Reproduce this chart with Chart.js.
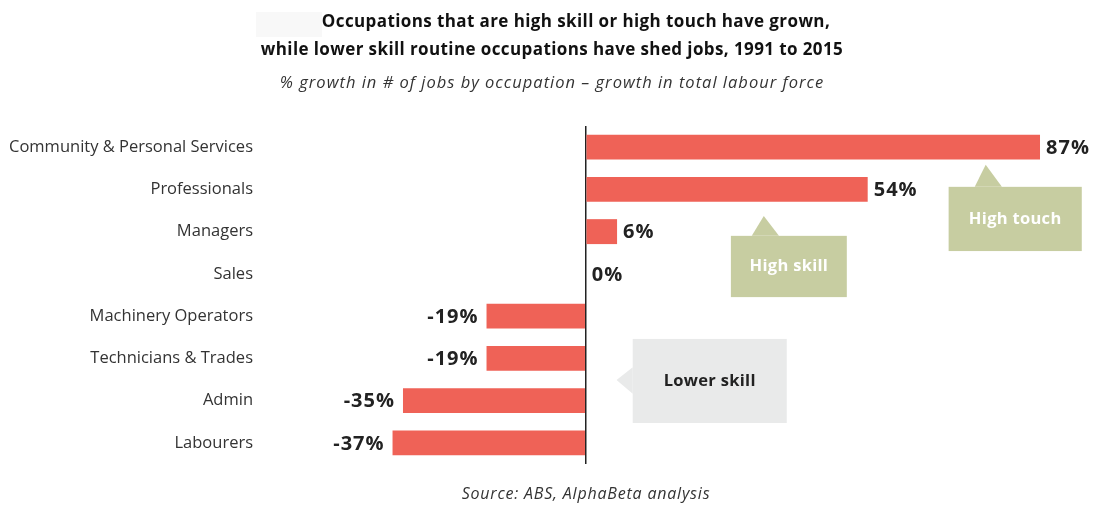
<!DOCTYPE html>
<html lang="en">
<head>
    <meta charset="UTF-8">
    <title>Occupation job growth 1991 to 2015</title>
    <script src="https://cdn.jsdelivr.net/npm/chart.js"></script>
    <style>
        html, body {
            margin: 0;
            padding: 0;
            background: #ffffff;
        }
        #wrap {
            width: 1097px;
            height: 506px;
        }
    </style>
</head>
<body>
    <div id="wrap"><canvas id="chart"></canvas></div>

    <script>
        // Data
        const occupations = [
            "Community & Personal Services",
            "Professionals",
            "Managers",
            "Sales",
            "Machinery Operators",
            "Technicians & Trades",
            "Admin",
            "Labourers"
        ];
        const growthPct = [87, 54, 6, 0, -19, -19, -35, -37];

        const titleLines = [
            "Occupations that are high skill or high touch have grown,",
            "while lower skill routine occupations have shed jobs, 1991 to 2015"
        ];
        const subtitleText = "% growth in # of jobs by occupation \u2013 growth in total labour force";
        const sourceText = "Source: ABS, AlphaBeta analysis";

        const FONT = "'Open Sans', sans-serif";
        const barColor = "#ef6257";

        // Callout boxes, in data units (x = %, y = category index)
        const callouts = [
            { text: "High touch", fill: "#c7cda1", color: "#ffffff",
              box: [69.5, 95.0, 0.94, 2.46], tip: [76.6, 0.42], base: [[74.5, 0.94], [79.7, 0.94]] },
            { text: "High skill", fill: "#c7cda1", color: "#ffffff",
              box: [27.8, 50.0, 2.10, 3.55], tip: [34.1, 1.63], base: [[31.8, 2.10], [37.0, 2.10]] },
            { text: "Lower skill", fill: "#e9eaea", color: "#222222",
              box: [9.0, 38.5, 4.54, 6.53], tip: [5.9, 5.51], base: [[9.0, 5.21], [9.0, 5.84]] }
        ];

        // the source picture is a bit stretched sideways, so widen text a little
        function spaced(ctx, px) {
            if ("letterSpacing" in ctx) ctx.letterSpacing = px + "px";
        }

        // Titles and source line
        const textPlugin = {
            id: "texts",
            afterDraw(chart) {
                const ctx = chart.ctx;
                ctx.save();
                // faint grey patch left of the first title line (as in the original)
                ctx.fillStyle = "#f8f8f8";
                ctx.fillRect(256, 12, 66, 25);
                ctx.textAlign = "center";
                ctx.textBaseline = "middle";
                ctx.fillStyle = "#111111";
                ctx.font = "bold 17px " + FONT;
                spaced(ctx, 0.4);
                ctx.fillText(titleLines[0], 576, 22);
                ctx.fillText(titleLines[1], 552, 50);
                ctx.fillStyle = "#333333";
                ctx.font = "italic 16.5px " + FONT;
                spaced(ctx, 1);
                ctx.fillText(subtitleText, 552, 83);
                ctx.font = "italic 16px " + FONT;
                spaced(ctx, 0.8);
                ctx.fillText(sourceText, 586, 494);
                ctx.restore();
            }
        };

        // Value labels at the bar ends
        const valueLabels = {
            id: "valueLabels",
            afterDatasetsDraw(chart) {
                const ctx = chart.ctx;
                const meta = chart.getDatasetMeta(0);
                ctx.save();
                ctx.font = "bold 20px " + FONT;
                spaced(ctx, 1);
                ctx.fillStyle = "#222222";
                ctx.textBaseline = "middle";
                meta.data.forEach((bar, i) => {
                    const v = growthPct[i];
                    if (v < 0) {
                        ctx.textAlign = "right";
                        ctx.fillText(v + "%", bar.x - 8, bar.y + 1);
                    } else {
                        ctx.textAlign = "left";
                        ctx.fillText(v + "%", bar.x + 6, bar.y + 1);
                    }
                });
                ctx.restore();
            }
        };

        // Callout shapes
        const calloutPlugin = {
            id: "callouts",
            afterDraw(chart) {
                const ctx = chart.ctx;
                const xs = chart.scales.x;
                const ys = chart.scales.y;
                const px = v => xs.getPixelForValue(v);
                const py = v => ys.getPixelForValue(v);
                ctx.save();
                callouts.forEach(c => {
                    const [x0, x1, y0, y1] = c.box;
                    ctx.fillStyle = c.fill;
                    ctx.fillRect(px(x0), py(y0), px(x1) - px(x0), py(y1) - py(y0));
                    ctx.beginPath();
                    ctx.moveTo(px(c.base[0][0]), py(c.base[0][1]));
                    ctx.lineTo(px(c.tip[0]), py(c.tip[1]));
                    ctx.lineTo(px(c.base[1][0]), py(c.base[1][1]));
                    ctx.closePath();
                    ctx.fill();
                    ctx.fillStyle = c.color;
                    ctx.font = "bold 16.5px " + FONT;
                    spaced(ctx, 0.3);
                    ctx.textAlign = "center";
                    ctx.textBaseline = "middle";
                    ctx.fillText(c.text, (px(x0) + px(x1)) / 2, (py(y0) + py(y1)) / 2);
                });
                ctx.restore();
            }
        };

        new Chart(document.getElementById("chart"), {
            type: "bar",
            data: {
                labels: occupations,
                datasets: [{
                    data: growthPct,
                    backgroundColor: barColor,
                    borderWidth: 0,
                    categoryPercentage: 1.0,
                    barPercentage: 0.59
                }]
            },
            options: {
                indexAxis: "y",
                responsive: true,
                maintainAspectRatio: false,
                animation: false,
                layout: { padding: { top: 126, bottom: 42, left: 0, right: 10 } },
                plugins: {
                    legend: { display: false },
                    title: { display: false },
                    tooltip: { enabled: false }
                },
                scales: {
                    x: {
                        min: -62,
                        max: 96,
                        ticks: { display: false },
                        border: { display: false },
                        grid: {
                            drawTicks: false,
                            color: ctx => (ctx.tick && ctx.tick.value === 0) ? "#222222" : "rgba(0,0,0,0)",
                            lineWidth: 1.5
                        }
                    },
                    y: {
                        ticks: {
                            color: "#333333",
                            font: { family: FONT, size: 16.5 },
                            padding: 9
                        },
                        grid: { display: false, drawTicks: false },
                        border: { display: false },
                        afterFit: scale => { scale.width = 262; }
                    }
                }
            },
            plugins: [valueLabels, calloutPlugin, textPlugin]
        });
    </script>
</body>
</html>
